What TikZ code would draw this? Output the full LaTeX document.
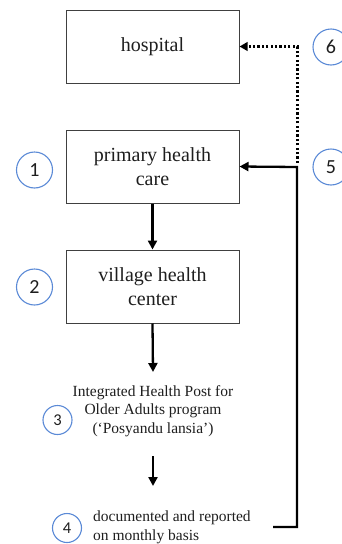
\documentclass[tikz,border=0pt]{standalone}
\usepackage{fontspec}
\setmainfont{Liberation Serif}
\newfontfamily\numfont{Carlito}
\usetikzlibrary{arrows.meta}
\definecolor{circblue}{HTML}{5B8AD6}
\definecolor{txt}{HTML}{1E1E1E}
\tikzset{
  x=1pt, y=-1pt,
  box/.style={draw=txt!85, line width=1pt, minimum width=173pt, minimum height=73pt,
    align=center, inner sep=2pt, text=txt,
    font=\fontsize{20}{24.5}\selectfont},
  plain/.style={align=center, inner sep=0pt, text=txt, font=\fontsize{15.5}{18.6}\selectfont},
  bignum/.style={circle, draw=circblue, line width=1.1pt, minimum size=36pt, inner sep=0pt,
    text=txt, font=\numfont\fontsize{20}{20}\selectfont},
  smallnum/.style={circle, draw=circblue, line width=1.1pt, minimum size=29pt, inner sep=0pt,
    text=txt, font=\numfont\fontsize{16.5}{16.5}\selectfont},
  arr/.style={line width=2.3pt, -{Triangle[length=9pt,width=9pt]}},
  dots/.style={line width=3pt, dash pattern=on 2.2pt off 2.2pt, -{Triangle[length=8pt,width=8.5pt]}}
}
\begin{document}
\begin{tikzpicture}
\useasboundingbox (0,0) rectangle (342,544);
\node[box] (hospital) at (152.5,46.5) {hospital};
\node[box] (phc) at (152.5,166.5) {primary health\\care};
\node[box] (vhc) at (152.5,286.5) {village health\\center};
\node[plain] (posy) at (153,411) {Integrated Health Post for\\Older Adults program\\(‘Posyandu lansia’)};
\node[plain, align=left, anchor=west] (doc) at (93,527.5) {documented and reported\\on monthly basis};

\node[bignum] (n1) at (34.5,170) {1};
\node[bignum] (n2) at (34.5,287) {2};
\node[smallnum] (n3) at (57.5,420) {3};
\node[smallnum] (n4) at (67,528) {4};
\node[bignum] (n5) at (331,167) {5};
\node[bignum] (n6) at (331,47) {6};

\coordinate (a1) at (153,372);
\coordinate (a2s) at (153,456);
\coordinate (a2e) at (153,486);
\coordinate (c4) at (273,527);
\coordinate (r5) at (297,167);
\coordinate (d0) at (297,163);

\draw[arr] (phc.south) -- (vhc.north);
\draw[arr] (vhc.south) -- (a1);
\draw[arr] (a2s) -- (a2e);
\draw[arr] (c4) -| (r5) -- (phc.east);
\draw[dots] (d0) |- (hospital.east);
\end{tikzpicture}
\end{document}
